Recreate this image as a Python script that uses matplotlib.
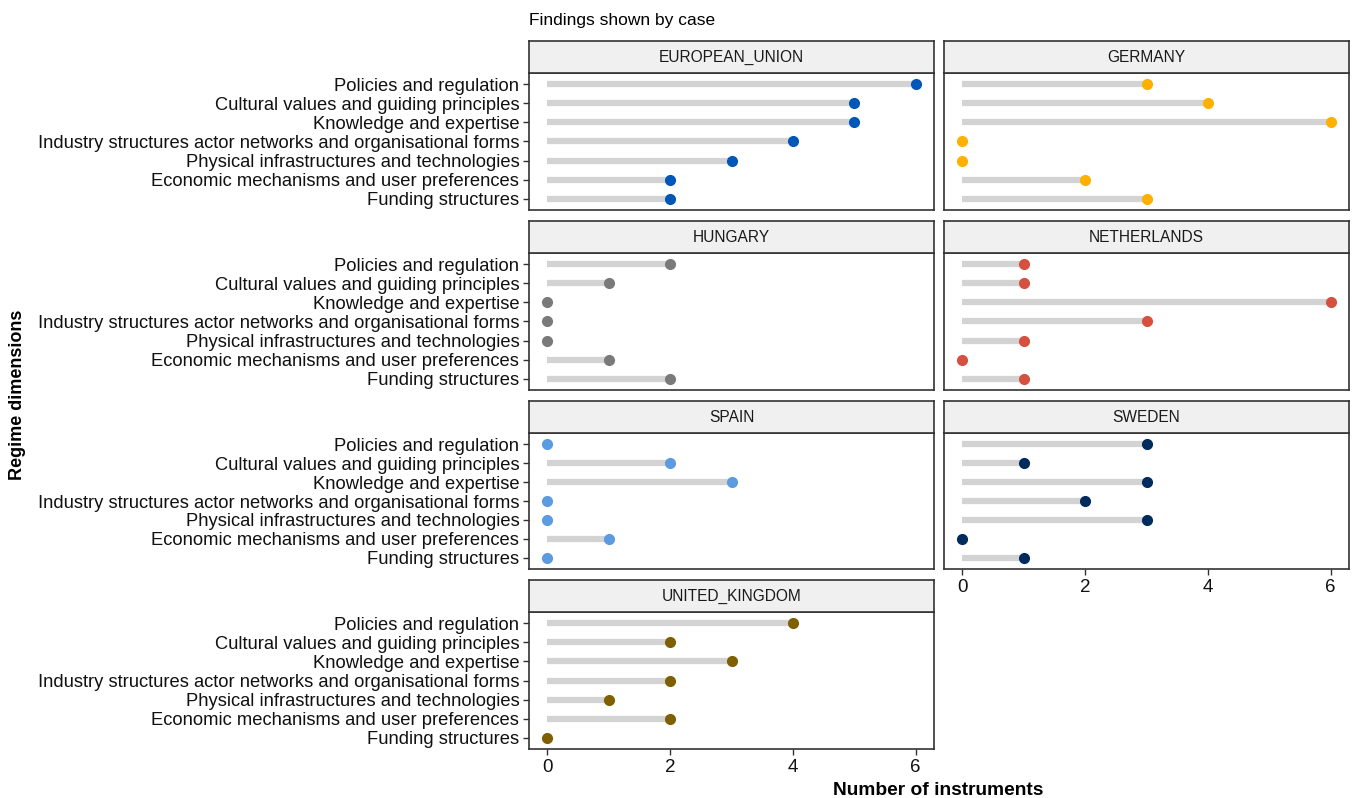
import matplotlib
matplotlib.use("Agg")
import matplotlib.pyplot as plt
import numpy as np

plt.rcParams['font.family'] = ['Liberation Sans', 'DejaVu Sans']

# ── data ──────────────────────────────────────────────────────────────────────
dimensions = [
    "Policies and regulation",
    "Cultural values and guiding principles",
    "Knowledge and expertise",
    "Industry structures actor networks and organisational forms",
    "Physical infrastructures and technologies",
    "Economic mechanisms and user preferences",
    "Funding structures",
]

cases = ["EUROPEAN_UNION", "GERMANY", "HUNGARY", "NETHERLANDS",
         "SPAIN", "SWEDEN", "UNITED_KINGDOM"]

eu_vals          = [6, 5, 5, 4, 3, 2, 2]
germany_vals     = [3, 4, 6, 0, 0, 2, 3]
hungary_vals     = [2, 1, 0, 0, 0, 1, 2]
netherlands_vals = [1, 1, 6, 3, 1, 0, 1]
spain_vals       = [0, 2, 3, 0, 0, 1, 0]
sweden_vals      = [3, 1, 3, 2, 3, 0, 1]
uk_vals          = [4, 2, 3, 2, 1, 2, 0]

case_values = [eu_vals, germany_vals, hungary_vals, netherlands_vals,
               spain_vals, sweden_vals, uk_vals]
case_colors = ["#0057B7", "#FFB000", "#7A7A7A", "#D6503F",
               "#5B9BE0", "#002B5C", "#7F5F00"]

x_ticks = [0, 2, 4, 6]

# ── layout (pixels, top-left origin) ─────────────────────────────────────────
W, H = 1353, 798
cols = [(529, 934), (944, 1349)]
rows = [(41, 73, 210), (221, 253, 390), (401, 433, 569), (580, 612, 749)]

fig = plt.figure(figsize=(W / 100, H / 100), dpi=100)


def fbox(x0, x1, ytop, ybot):
    return [x0 / W, 1 - ybot / H, (x1 - x0) / W, (ybot - ytop) / H]


y_pos = np.arange(len(dimensions))

for i, (case, vals, col) in enumerate(zip(cases, case_values, case_colors)):
    r, c = divmod(i, 2)
    x0, x1 = cols[c]
    s_top, s_bot, p_bot = rows[r]

    ax = fig.add_axes(fbox(x0, x1, s_bot, p_bot))
    ax.hlines(y_pos, 0, vals, color="#D3D3D3", lw=4.5, zorder=1)
    ax.plot(vals, y_pos, "o", color=col, ms=7, zorder=2)
    ax.set_xlim(-0.3, 6.3)
    ax.set_ylim(len(dimensions) - 0.4, -0.6)
    ax.set_xticks(x_ticks)
    ax.set_yticks(y_pos)
    for sp in ax.spines.values():
        sp.set_linewidth(1.2)
        sp.set_color("#333333")

    is_left = (c == 0)
    is_bottom = case in ("SWEDEN", "UNITED_KINGDOM")
    if is_left:
        ax.set_yticklabels(dimensions, fontsize=13.2, color="#111111")
        ax.tick_params(axis="y", length=4, width=1, color="#333333", pad=3)
    else:
        ax.tick_params(axis="y", length=0, labelleft=False)
    if is_bottom:
        ax.set_xticklabels([str(t) for t in x_ticks], fontsize=13.5,
                           color="#111111")
        ax.tick_params(axis="x", length=4, width=1, color="#333333", pad=3)
    else:
        ax.tick_params(axis="x", length=0, labelbottom=False)

    # strip
    sax = fig.add_axes(fbox(x0, x1, s_top, s_bot))
    sax.set_facecolor("#F0F0F0")
    sax.set_xticks([])
    sax.set_yticks([])
    for sp in sax.spines.values():
        sp.set_linewidth(1.2)
        sp.set_color("#333333")
    sax.text(0.5, 0.5, case, ha="center", va="center", fontsize=11.2,
             color="#1A1A1A", transform=sax.transAxes)

fig.text(529 / W, 1 - 20 / H, "Findings shown by case", ha="left",
         va="center", fontsize=12.5)
fig.text(18 / W, 1 - 395 / H, "Regime dimensions", rotation=90,
         ha="center", va="center", fontsize=13, fontweight="bold")
fig.text(938 / W, 1 - 782 / H, "Number of instruments", ha="center",
         va="top", fontsize=13.8, fontweight="bold")

fig.savefig("out.png", dpi=100)
